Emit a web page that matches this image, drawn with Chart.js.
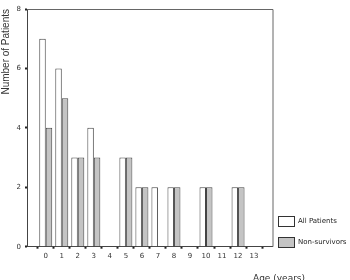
<!DOCTYPE html>
<html>
<head>
<meta charset="utf-8">
<script src="https://cdn.jsdelivr.net/npm/chart.js@4.4.1/dist/chart.umd.min.js"></script>
<style>
  html, body { margin: 0; padding: 0; background: #fff; }
  #wrap { width: 350px; height: 280px; position: relative; }
</style>
</head>
<body>
<div id="wrap"><canvas id="chart"></canvas></div>
<script>
// values
const ages = [0, 1, 2, 3, 4, 5, 6, 7, 8, 9, 10, 11, 12, 13];
const allPatients = [7, 6, 3, 4, 0, 3, 2, 2, 2, 0, 2, 0, 2, 0];
const nonSurvivors = [4, 5, 3, 3, 0, 3, 2, 0, 2, 0, 2, 0, 2, 0];
const yTicks = [0, 2, 4, 6, 8];

const tickFont = { family: 'DejaVu Sans', size: 7 };

// frame round the plot, legend and x title (placed like the original figure)
const extras = {
  id: 'extras',
  afterDraw(chart) {
    const { ctx, chartArea: a } = chart;
    ctx.save();
    ctx.strokeStyle = '#666';
    ctx.lineWidth = 1;
    ctx.beginPath();
    ctx.moveTo(a.left, a.top + 0.5);
    ctx.lineTo(a.right + 0.5, a.top + 0.5);
    ctx.lineTo(a.right + 0.5, a.bottom);
    ctx.stroke();

    // legend
    ctx.font = '7px "DejaVu Sans"';
    ctx.textBaseline = 'middle';
    ctx.textAlign = 'left';
    chart.data.datasets.forEach((ds, i) => {
      const y = 216 + i * 21;
      ctx.fillStyle = ds.backgroundColor;
      ctx.fillRect(278.5, y + 0.5, 16, 10);
      ctx.strokeStyle = '#333';
      ctx.strokeRect(278.5, y + 0.5, 16, 10);
      ctx.fillStyle = '#222';
      ctx.fillText(ds.label, 298, y + 5.5);
    });

    ctx.font = '9px "DejaVu Sans"';
    ctx.textBaseline = 'top';
    ctx.fillStyle = '#333';
    ctx.fillText('Age (years)', 253, 274);
    ctx.restore();
  }
};

new Chart(document.getElementById('chart'), {
  type: 'bar',
  data: {
    datasets: [{
      label: 'All Patients',
      data: ages.map((a, i) => ({ x: a, y: allPatients[i] })),
      backgroundColor: '#ffffff',
      borderColor: '#444',
      borderWidth: 1
    }, {
      label: 'Non-survivors',
      data: ages.map((a, i) => ({ x: a, y: nonSurvivors[i] })),
      backgroundColor: '#c4c4c4',
      borderColor: '#444',
      borderWidth: 1
    }]
  },
  options: {
    responsive: true,
    maintainAspectRatio: false,
    animation: false,
    categoryPercentage: 0.81,
    barPercentage: 1,
    layout: { padding: { top: 9, right: 77.5, left: 0, bottom: 0 } },
    scales: {
      x: {
        type: 'linear',
        offset: false,
        min: -1.17,
        max: 14.15,
        afterBuildTicks: s => { s.ticks = ages.map(v => ({ value: v })); },
        afterFit: s => { s.height = 33.3; },
        border: { color: '#444', width: 1 },
        grid: { drawOnChartArea: false, tickLength: 2, tickWidth: 2, tickColor: '#222' },
        ticks: { font: tickFont, color: '#333', padding: 3, autoSkip: false, maxRotation: 0 }
      },
      y: {
        min: 0,
        max: 8,
        afterBuildTicks: s => { s.ticks = yTicks.map(v => ({ value: v })); },
        afterFit: s => { s.width = 27; },
        border: { color: '#444', width: 1 },
        grid: { drawOnChartArea: false, tickLength: 2, tickWidth: 2, tickColor: '#222' },
        ticks: { font: tickFont, color: '#333', padding: 4 },
        title: {
          display: true,
          text: 'Number of Patients',
          align: 'end',
          color: '#333',
          font: { family: 'Liberation Sans', size: 10 },
          padding: { top: 0, bottom: 0 }
        }
      }
    },
    plugins: {
      legend: { display: false },
      tooltip: { enabled: false }
    }
  },
  plugins: [extras]
});
</script>
</body>
</html>
